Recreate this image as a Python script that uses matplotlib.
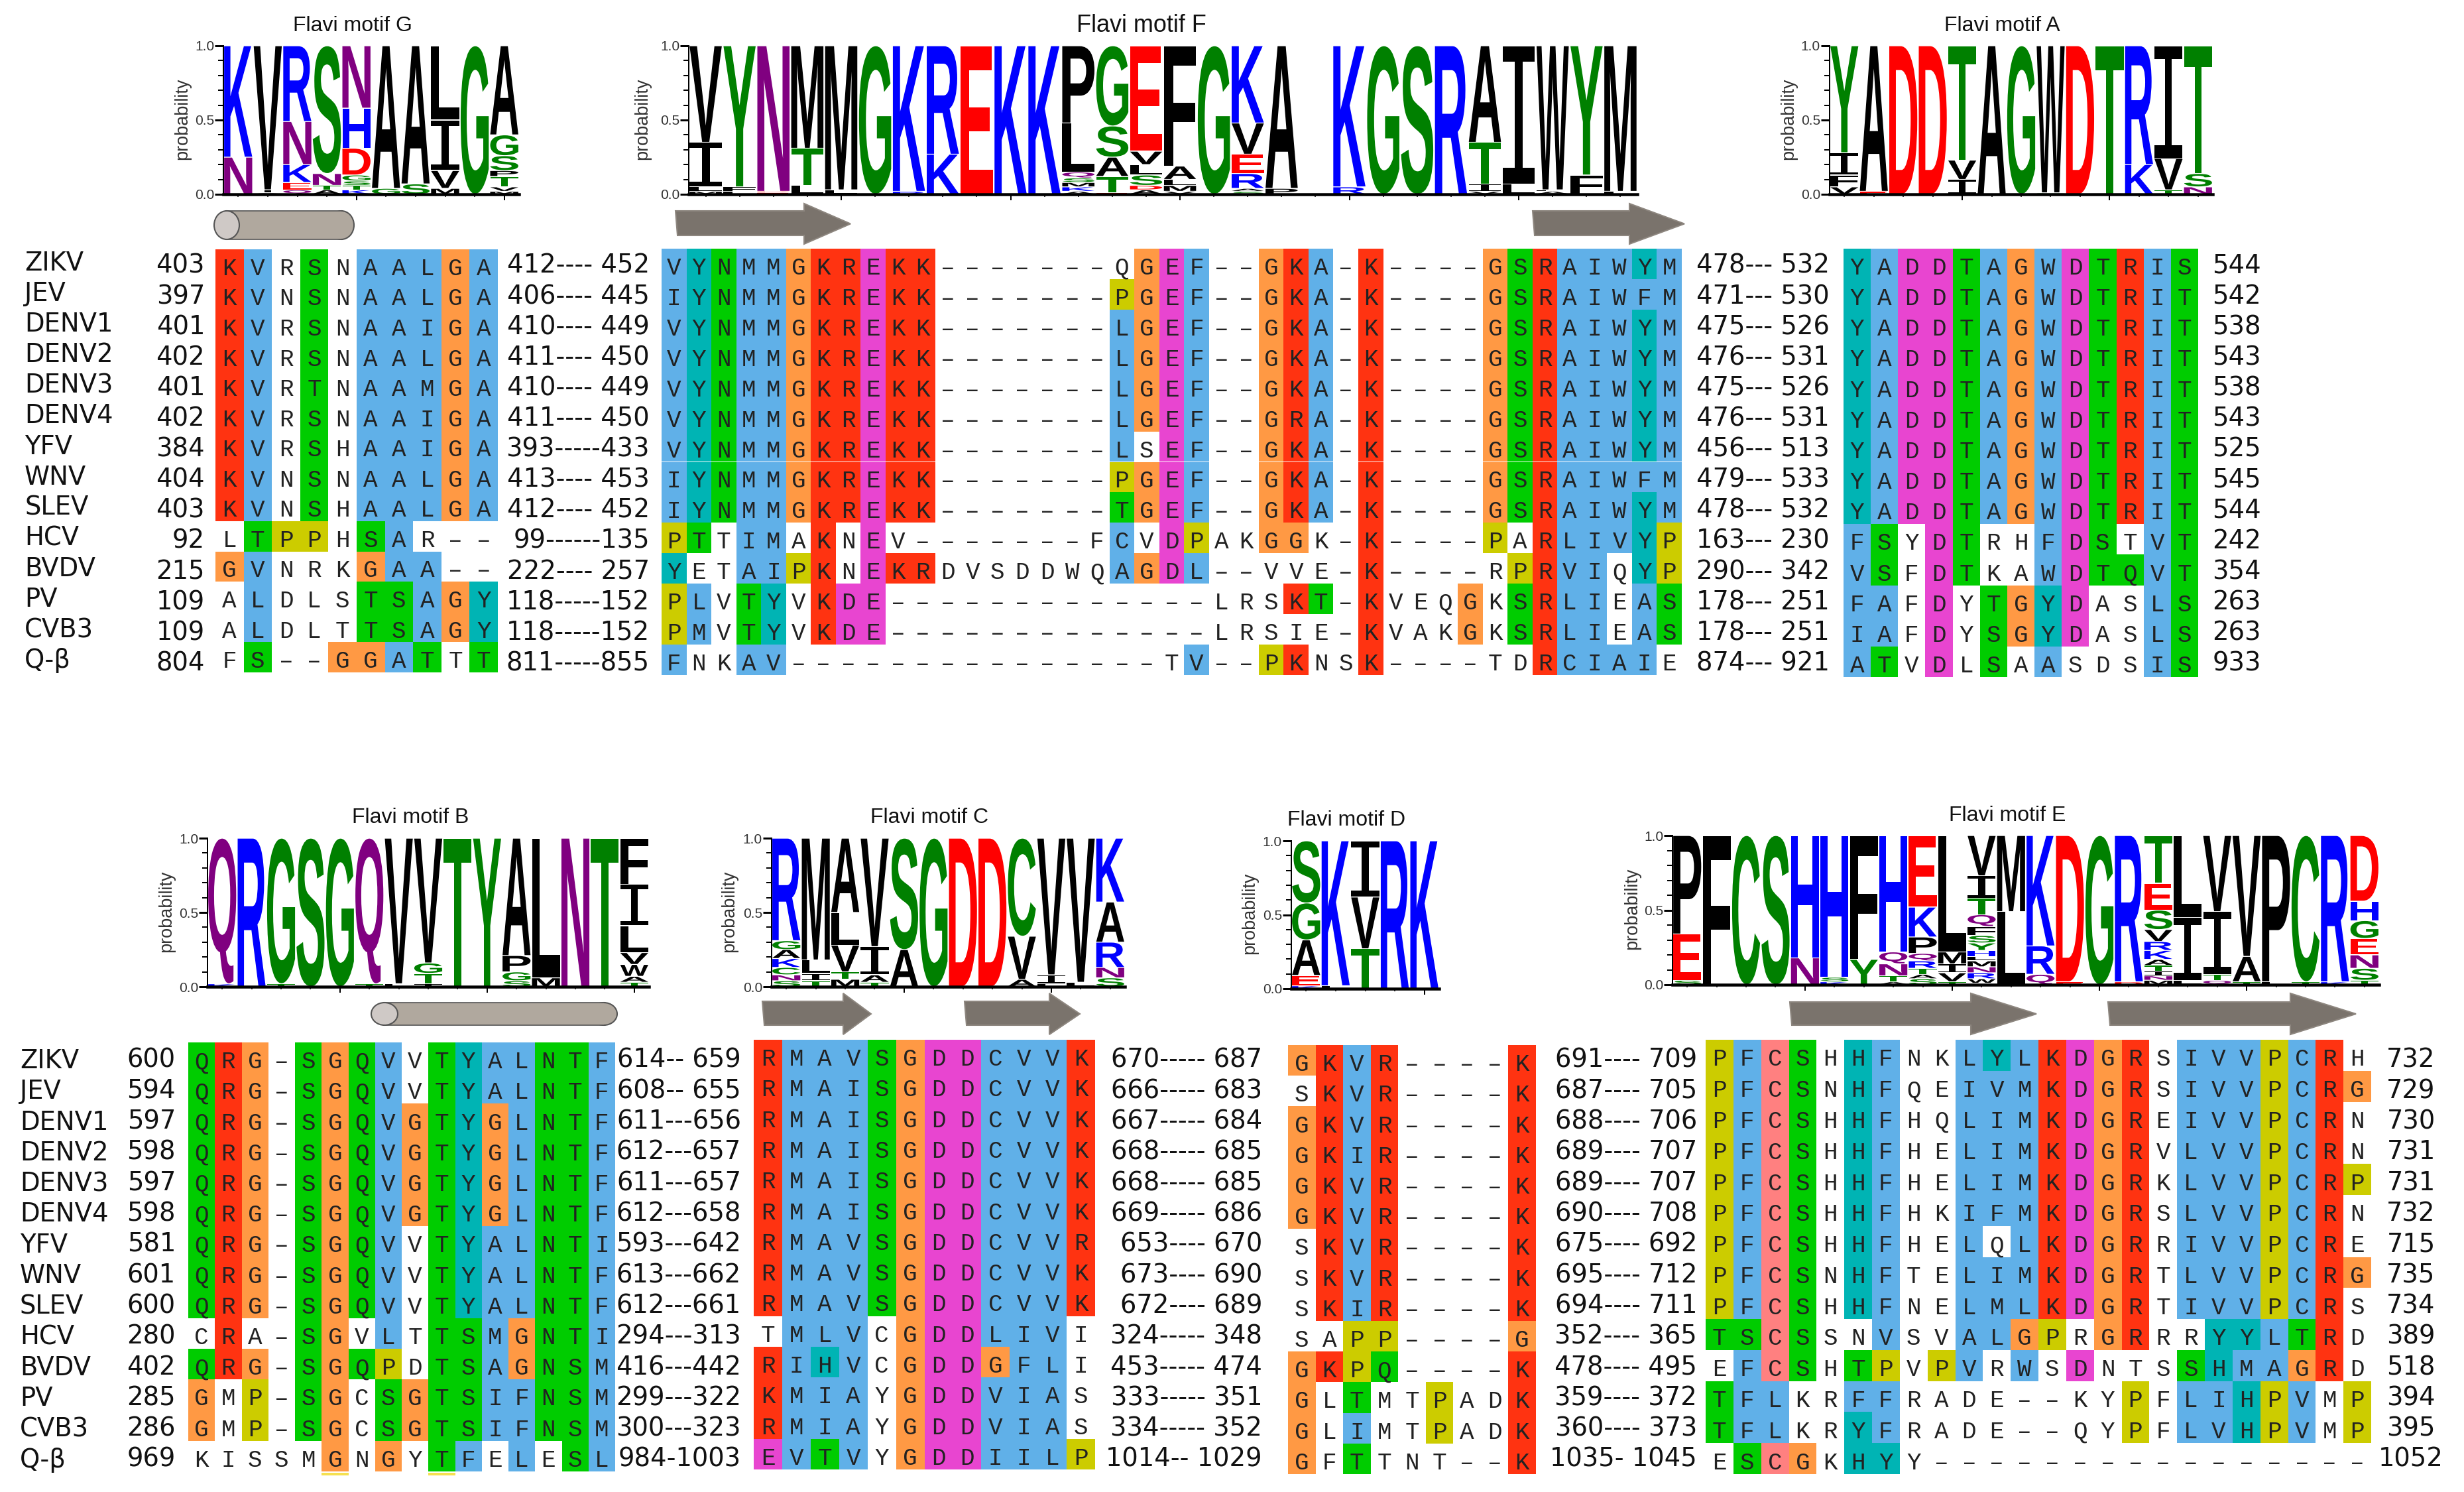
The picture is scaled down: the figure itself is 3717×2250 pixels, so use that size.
import matplotlib
matplotlib.use("Agg")
import matplotlib.pyplot as plt
from matplotlib.font_manager import FontProperties
from matplotlib.patches import Ellipse, PathPatch, Polygon, Rectangle
from matplotlib.ticker import FixedLocator
from matplotlib.textpath import TextPath
from matplotlib.transforms import Affine2D

W, H = 3717, 2250
DPI = 100

names = ["ZIKV", "JEV", "DENV1", "DENV2", "DENV3", "DENV4", "YFV", "WNV", "SLEV",
         "HCV", "BVDV", "PV", "CVB3", "Q-β"]

# --- alignment, upper case = coloured cell, lower case = white cell
seq_g = ["KVrSnAALGA", "KVnSnAALGA", "KVrSnAAIGA", "KVrSnAALGA", "KVrTnAAMGA", "KVrSnAAIGA",
         "KVrShAAIGA", "KVnSnAALGA", "KVnShAALGA", "lTPPhSAr--", "GVnrkGAA--", "aLdlsTSAGY",
         "aLdltTSAGY", "fS--GGATtT"]
seq_f = ["VYNMMGKREKK-------qGEF--GKA-K----GSRAIWYM",
         "IYNMMGKREKK-------PGEF--GKA-K----GSRAIWFM",
         "VYNMMGKREKK-------LGEF--GKA-K----GSRAIWYM",
         "VYNMMGKREKK-------LGEF--GKA-K----GSRAIWYM",
         "VYNMMGKREKK-------LGEF--GKA-K----GSRAIWYM",
         "VYNMMGKREKK-------LGEF--GRA-K----GSRAIWYM",
         "VYNMMGKREKK-------LsEF--GKA-K----GSRAIWYM",
         "IYNMMGKREKK-------PGEF--GKA-K----GSRAIWFM",
         "IYNMMGKREKK-------TGEF--GKA-K----GSRAIWYM",
         "PTtIMaKnEv-------fCvDPakGGk-K----PaRLIVYP",
         "YetAIPKnEKRdvsddwqAGDL--vve-K----rPRVIqYP",
         "PLvTYvKDE-------------lrsKT-KveqGkSRLIeAS",
         "PMvTYvKDE-------------lrsie-KvakGkSRLIeAS",
         "FnkAV---------------tV--PKnsK----tdRCIAIe"]
seq_a = ["YADDTAGWDTRIS", "YADDTAGWDTRIT", "YADDTAGWDTRIT", "YADDTAGWDTRIT", "YADDTAGWDTRIT",
         "YADDTAGWDTRIT", "YADDTAGWDTRIT", "YADDTAGWDTRIT", "YADDTAGWDTRIT", "FSyDTrhFDStVT",
         "VSfDTkaWDTQVT", "FAfDyTGYDasLS", "IAfDySGYDasLS", "ATvDlSaAsdsIS"]
seq_b = ["QRG-SGQVvTYALNTF", "QRG-SGQVvTYALNTF", "QRG-SGQVGTYGLNTF", "QRG-SGQVGTYGLNTF",
         "QRG-SGQVGTYGLNTF", "QRG-SGQVGTYGLNTF", "QRG-SGQVvTYALNTI", "QRG-SGQVvTYALNTF",
         "QRG-SGQVvTYALNTF", "cRa-SGvLtTSMGNTI", "QRG-SGQPdTSAGNSM", "GmP-SGcSGTSIFNSM",
         "GmP-SGcSGTSIFNSM", "kissmGnGyTFeLeSL"]
seq_c = ["RMAVSGDDCVVK", "RMAISGDDCVVK", "RMAISGDDCVVK", "RMAISGDDCVVK", "RMAISGDDCVVK",
         "RMAISGDDCVVK", "RMAVSGDDCVVR", "RMAVSGDDCVVK", "RMAVSGDDCVVK", "tMLVcGDDLIVi",
         "RIHVcGDDGFLi", "KMIAyGDDVIAs", "RMIAyGDDVIAs", "EVTVyGDDIILP"]
seq_d = ["GKVR----K", "sKVR----K", "GKVR----K", "GKIR----K", "GKVR----K", "GKVR----K",
         "sKVR----K", "sKVR----K", "sKIR----K", "saPP----G", "GKPQ----K", "GlTmtPadK",
         "GlImtPadK", "GfTtnt--K"]
seq_e = ["PFCShHFnkLYLKDGRsIVVPCRh", "PFCSnHFqeIVMKDGRsIVVPCRG", "PFCShHFhqLIMKDGReIVVPCRn",
         "PFCShHFheLIMKDGRvLVVPCRn", "PFCShHFheLIMKDGRkLVVPCRP", "PFCShHFhkIFMKDGRsLVVPCRn",
         "PFCShHFheLqLKDGRrIVVPCRe", "PFCSnHFteLIMKDGRtLVVPCRG", "PFCShHFneLMLKDGRtIVVPCRs",
         "TSCSsnVsvALGPrGRrrYYLTRd", "eFCShTPvPVrWsDntsSHMAGRd", "TFLkrFFrade--kyPfLIHPVmP",
         "TFLkrYFrade--qyPfLVHPVmP", "eSCGkHYy----------------"]

# --- residue numbering
start_top = ["403", "397", "401", "402", "401", "402", "384", "404", "403", "92", "215", "109", "109", "804"]
range_g = ["412---- 452", "406---- 445", "410---- 449", "411---- 450", "410---- 449", "411---- 450",
           "393-----433", "413---- 453", "412---- 452", "99------135", "222---- 257", "118-----152",
           "118-----152", "811-----855"]
range_f = ["478--- 532", "471--- 530", "475--- 526", "476--- 531", "475--- 526", "476--- 531",
           "456--- 513", "479--- 533", "478--- 532", "163--- 230", "290--- 342", "178--- 251",
           "178--- 251", "874--- 921"]
end_top = ["544", "542", "538", "543", "538", "543", "525", "545", "544", "242", "354", "263", "263", "933"]
start_bot = ["600", "594", "597", "598", "597", "598", "581", "601", "600", "280", "402", "285", "286", "969"]
range_b = ["614-- 659", "608-- 655", "611---656", "612---657", "611---657", "612---658", "593---642",
           "613---662", "612---661", "294---313", "416---442", "299---322", "300---323", "984-1003"]
range_c = ["670----- 687", "666----- 683", "667----- 684", "668----- 685", "668----- 685", "669----- 686",
           "653---- 670", "673---- 690", "672---- 689", "324----- 348", "453----- 474", "333----- 351",
           "334----- 352", "1014-- 1029"]
range_d = ["691---- 709", "687---- 705", "688---- 706", "689---- 707", "689---- 707", "690---- 708",
           "675---- 692", "695---- 712", "694---- 711", "352---- 365", "478---- 495", "359---- 372",
           "360---- 373", "1035- 1045"]
end_bot = ["732", "729", "730", "731", "731", "732", "715", "735", "734", "389", "518", "394", "395", "1052"]

# --- sequence logos, each column bottom to top as (letter, probability)
logo_g = [
    [("N", .25), ("K", .75)],
    [("A", .01), ("I", .02), ("V", .97)],
    [("Q", .03), ("E", .05), ("K", .12), ("N", .29), ("R", .51)],
    [("A", .03), ("T", .03), ("N", .08), ("S", .86)],
    [("K", .03), ("T", .03), ("S", .03), ("G", .04), ("D", .18), ("H", .27), ("N", .42)],
    [("G", .04), ("A", .96)],
    [("S", .07), ("A", .93)],
    [("M", .04), ("V", .12), ("I", .34), ("L", .50)],
    [("G", 1.0)],
    [("M", .02), ("V", .03), ("T", .07), ("P", .04), ("S", .10), ("G", .14), ("A", .60)],
]
logo_f = [
    [("M", .02), ("L", .03), ("I", .30), ("V", .65)],
    [("L", .02), ("F", .03), ("Y", .95)],
    [("E", .01), ("D", .01), ("N", .98)],
    [("L", .06), ("T", .25), ("M", .69)],
    [("L", .03), ("M", .97)],
    [("G", 1.0)],
    [("R", .02), ("K", .98)],
    [("K", .27), ("R", .73)],
    [("E", 1.0)],
    [("K", 1.0)],
    [("K", 1.0)],
    [("A", .02), ("K", .03), ("M", .03), ("S", .03), ("Q", .04), ("L", .33), ("P", .52)],
    [("E", .01), ("T", .11), ("A", .13), ("S", .21), ("G", .54)],
    [("A", .03), ("D", .03), ("S", .07), ("L", .07), ("V", .09), ("E", .71)],
    [("V", .02), ("M", .04), ("L", .04), ("A", .09), ("F", .81)],
    [("G", 1.0)],
    [("S", .02), ("A", .02), ("R", .10), ("E", .13), ("V", .21), ("K", .52)],
    [("P", .04), ("A", .96)],
    [],
    [("R", .05), ("K", .95)],
    [("G", 1.0)],
    [("S", 1.0)],
    [("R", 1.0)],
    [("V", .02), ("I", .05), ("T", .28), ("A", .65)],
    [("L", .07), ("I", .93)],
    [("A", .02), ("L", .01), ("W", .97)],
    [("F", .13), ("Y", .87)],
    [("L", .02), ("M", .98)],
]
logo_a = [
    [("V", .05), ("F", .08), ("I", .15), ("Y", .72)],
    [("E", .02), ("A", .98)],
    [("D", 1.0)],
    [("D", 1.0)],
    [("I", .10), ("V", .13), ("T", .77)],
    [("A", 1.0)],
    [("G", 1.0)],
    [("G", .01), ("W", .99)],
    [("D", 1.0)],
    [("T", 1.0)],
    [("K", .20), ("R", .80)],
    [("T", .03), ("V", .21), ("I", .76)],
    [("N", .05), ("S", .09), ("T", .86)],
]
logo_b = [
    [("K", .02), ("Q", .98)],
    [("R", 1.0)],
    [("T", .02), ("G", .98)],
    [("S", 1.0)],
    [("G", 1.0)],
    [("T", .02), ("Q", .98)],
    [("L", .02), ("V", .98)],
    [("I", .02), ("T", .07), ("G", .07), ("V", .84)],
    [("T", 1.0)],
    [("Y", 1.0)],
    [("S", .04), ("G", .06), ("P", .11), ("A", .79)],
    [("M", .06), ("L", .94)],
    [("N", 1.0)],
    [("T", 1.0)],
    [("T", .03), ("A", .04), ("W", .08), ("V", .08), ("L", .18), ("I", .28), ("F", .31)],
]
logo_c = [
    [("S", .04), ("N", .04), ("C", .05), ("K", .06), ("A", .06), ("G", .06), ("R", .69)],
    [("T", .04), ("I", .05), ("L", .09), ("M", .82)],
    [("M", .05), ("T", .05), ("V", .18), ("L", .22), ("A", .50)],
    [("T", .03), ("A", .05), ("I", .19), ("V", .73)],
    [("A", .25), ("S", .75)],
    [("G", 1.0)],
    [("D", 1.0)],
    [("D", 1.0)],
    [("A", .05), ("V", .29), ("C", .66)],
    [("L", .02), ("I", .06), ("V", .92)],
    [("L", .03), ("V", .97)],
    [("S", .06), ("N", .07), ("R", .17), ("A", .27), ("K", .43)],
]
logo_d = [
    [("K", .02), ("E", .07), ("A", .24), ("G", .25), ("S", .42)],
    [("L", .02), ("K", .98)],
    [("T", .27), ("V", .35), ("I", .38)],
    [("R", 1.0)],
    [("K", 1.0)],
]
logo_e = [
    [("S", .03), ("E", .31), ("P", .66)],
    [("F", 1.0)],
    [("C", 1.0)],
    [("S", 1.0)],
    [("N", .18), ("H", .82)],
    [("K", .02), ("S", .03), ("H", .95)],
    [("Y", .17), ("F", .83)],
    [("A", .02), ("T", .04), ("N", .08), ("Q", .08), ("H", .78)],
    [("S", .04), ("A", .03), ("T", .04), ("R", .05), ("Q", .05), ("P", .11), ("K", .20), ("E", .48)],
    [("T", .02), ("V", .06), ("I", .06), ("M", .08), ("L", .78)],
    [("W", .03), ("R", .04), ("N", .04), ("M", .04), ("L", .03), ("H", .04), ("Y", .05), ("S", .05),
     ("F", .06), ("Q", .08), ("T", .11), ("I", .15), ("V", .27)],
    [("L", .49), ("M", .51)],
    [("Q", .07), ("R", .19), ("K", .74)],
    [("E", .02), ("D", .98)],
    [("G", 1.0)],
    [("D", .02), ("R", .98)],
    [("M", .03), ("N", .03), ("I", .03), ("T", .04), ("A", .04), ("K", .06), ("R", .06),
     ("V", .08), ("S", .13), ("E", .18), ("T", .32)],
    [("L", .03), ("I", .42), ("L", .55)],
    [("Q", .03), ("T", .04), ("I", .42), ("V", .51)],
    [("T", .02), ("A", .17), ("V", .81)],
    [("L", .02), ("P", .98)],
    [("T", .02), ("C", .98)],
    [("K", .02), ("R", .98)],
    [("T", .03), ("S", .08), ("N", .09), ("E", .11), ("G", .12), ("H", .13), ("D", .44)],
]

# --- colours
clustal = {"K": "#ff3311", "R": "#ff3311",
           "A": "#60b0e8", "I": "#60b0e8", "L": "#60b0e8", "M": "#60b0e8", "F": "#60b0e8",
           "W": "#60b0e8", "V": "#60b0e8", "C": "#60b0e8",
           "N": "#00cc00", "Q": "#00cc00", "S": "#00cc00", "T": "#00cc00",
           "D": "#e845d0", "E": "#e845d0",
           "G": "#ff9944", "P": "#cccc00", "H": "#00b4b4", "Y": "#00b4b4"}
CYS_PINK = "#ff8080"
logo_colors = {"A": "black", "V": "black", "L": "black", "I": "black", "P": "black", "F": "black",
               "W": "black", "M": "black", "G": "#008000", "S": "#008000", "T": "#008000",
               "Y": "#008000", "C": "#008000", "N": "#800080", "Q": "#800080", "K": "#0000ff",
               "R": "#0000ff", "H": "#0000ff", "D": "#ff0000", "E": "#ff0000"}


def pt(px):
    return px * 72 / DPI


fig = plt.figure(figsize=(W / DPI, H / DPI), dpi=DPI)
ax = fig.add_axes([0, 0, 1, 1])
ax.set_xlim(0, W)
ax.set_ylim(H, 0)
ax.axis("off")

SANS = "Liberation Sans"
NUM_SIZE = pt(38.5)
RES_SIZE = pt(36)


def draw_block(seqs, x0, x1, y0, y1, pink_col=None, underline=()):
    cw = (x1 - x0) / len(seqs[0])
    rh = (y1 - y0) / len(seqs)
    for r, seq in enumerate(seqs):
        for c, res in enumerate(seq):
            if res in clustal:
                color = CYS_PINK if (res == "C" and c == pink_col) else clustal[res]
                ax.add_patch(Rectangle((x0 + c * cw, y0 + r * rh), cw, rh, fc=color, lw=0,
                                       antialiased=False, zorder=1))
            ax.text(x0 + (c + .5) * cw, y0 + (r + .5) * rh + 16, res.upper() if res != "-" else "–",
                    family="Liberation Mono", fontsize=RES_SIZE, color="#222222",
                    ha="center", va="baseline", zorder=2)
    for c in underline:
        ax.add_patch(Rectangle((x0 + c * cw, y1 + 2), cw, 4, fc="#f5e050", lw=0, zorder=1))


def draw_column(strings, x, y0, step, ha):
    for r, s in enumerate(strings):
        ax.text(x, y0 + r * step, s, fontsize=NUM_SIZE, color="#111111", ha=ha, va="baseline", zorder=3)


def glyph(letter):
    # the logo's I keeps its bars and a thin stem
    if letter == "I":
        fp = FontProperties(family="DejaVu Sans Mono")
    else:
        fp = FontProperties(family=SANS, weight="bold")
    return TextPath((0, 0), letter, size=10, prop=fp)


def draw_logo(columns, x0, x1, ytop, ybot, title, title_x, title_y, ylabel_x, title_px=32):
    lax = fig.add_axes([x0 / W, 1 - ybot / H, (x1 - x0) / W, (ybot - ytop) / H])
    lax.set_xlim(0, len(columns))
    lax.set_ylim(0, 1)
    lax.patch.set_alpha(0)
    for i, col in enumerate(columns):
        y = 1 - sum(p for _, p in col)
        for letter, p in col:
            path = glyph(letter)
            box = path.get_extents()
            tr = (Affine2D().translate(-box.x0, -box.y0)
                  .scale(.95 / box.width, max(p - .006, .002) / box.height)
                  .translate(i + .025, y + .003))
            lax.add_patch(PathPatch(path, fc=logo_colors[letter], lw=0,
                                    transform=tr + lax.transData, clip_on=False))
            y += p
    for side in ("top", "right"):
        lax.spines[side].set_visible(False)
    lax.spines["left"].set_linewidth(pt(2))
    lax.spines["bottom"].set_linewidth(pt(4.5))
    lax.set_yticks([0, .5, 1])
    lax.set_yticklabels(["0.0", "0.5", "1.0"], family=SANS, fontsize=pt(21), color="#333333")
    lax.yaxis.set_minor_locator(FixedLocator([.1, .2, .3, .4, .6, .7, .8, .9]))
    lax.tick_params(axis="y", which="major", length=pt(13), width=pt(3), pad=pt(1))
    lax.tick_params(axis="y", which="minor", length=pt(8), width=pt(2))
    lax.set_xticks([i + .5 for i in range(4, len(columns), 5)])
    lax.set_xticklabels([])
    lax.xaxis.set_minor_locator(FixedLocator([i + .5 for i in range(len(columns))]))
    lax.tick_params(axis="x", which="major", length=pt(9), width=pt(2))
    lax.tick_params(axis="x", which="minor", length=pt(4), width=pt(1.5))
    ax.text(title_x, title_y, title, family=SANS, fontsize=pt(title_px), color="#111111",
            ha="center", va="center")
    ax.text(ylabel_x, (ytop + ybot) / 2 - 2, "probability", family=SANS, fontsize=pt(27),
            color="#333333", rotation=90, ha="center", va="center")


def draw_helix(x0, x1, y0, y1, cap):
    mid = (y0 + y1) / 2
    ax.add_patch(Ellipse((x1 - cap / 2, mid), cap, y1 - y0, fc="#b0a89e", ec="#555555", lw=1.5))
    ax.add_patch(Rectangle((x0 + cap / 2, y0), x1 - x0 - cap, y1 - y0, fc="#b0a89e", lw=0))
    ax.plot([x0 + cap / 2, x1 - cap / 2], [y0, y0], color="#555555", lw=1.2)
    ax.plot([x0 + cap / 2, x1 - cap / 2], [y1, y1], color="#555555", lw=1.2)
    ax.add_patch(Ellipse((x0 + cap / 2, mid), cap, y1 - y0, fc="#cfc9c6", ec="#555555", lw=1.5))


def draw_arrow(x0, xh, x1, ys0, ys1, yh0, yh1):
    pts = [(x0, ys0), (xh, ys0), (xh, yh0), (x1, (yh0 + yh1) / 2), (xh, yh1), (xh, ys1), (x0 + 3, ys1)]
    ax.add_patch(Polygon(pts, closed=True, fc="#7a736c", ec="#8d867f", lw=1.5))


# top panel
draw_logo(logo_g, 337, 783, 69, 293, "Flavi motif G", 532, 39, 275)
draw_logo(logo_f, 1039, 2470, 69, 293, "Flavi motif F", 1722, 39, 969, title_px=36)
draw_logo(logo_a, 2760, 3338, 69, 293, "Flavi motif A", 3020, 39, 2698)
draw_helix(323, 534, 318, 361, 38)
draw_arrow(1019, 1213, 1283, 318, 355, 307, 368)
draw_arrow(2312, 2458, 2541, 318, 355, 307, 368)

draw_column(names, 37, 408, 46.1, "left")
draw_column(start_top, 309, 412, 46.1, "right")
draw_block(seq_g, 325, 751, 376, 1014)
draw_column(range_g, 980, 412, 46.1, "right")
draw_block(seq_f, 998, 2537, 375, 1018)
draw_column(range_f, 2760, 412, 46.1, "right")
draw_block(seq_a, 2781, 3316, 375, 1021)
draw_column(end_top, 3374, 412, 46.1, "center")

# bottom panel
draw_logo(logo_b, 313, 979, 1264, 1488, "Flavi motif B", 619, 1233, 251)
draw_logo(logo_c, 1164, 1697, 1264, 1488, "Flavi motif C", 1402, 1233, 1100)
draw_logo(logo_d, 1948, 2171, 1268, 1491, "Flavi motif D", 2031, 1237, 1885)
draw_logo(logo_e, 2523, 3589, 1260, 1485, "Flavi motif E", 3028, 1230, 2462)
draw_helix(560, 931, 1512, 1546, 40)
draw_arrow(1150, 1272, 1314, 1510, 1546, 1498, 1560)
draw_arrow(1455, 1583, 1629, 1510, 1546, 1498, 1560)
draw_arrow(2700, 2973, 3072, 1511, 1546, 1498, 1560)
draw_arrow(3180, 3455, 3554, 1511, 1546, 1498, 1560)

draw_column(names, 30, 1611, 46.3, "left")
draw_column(start_bot, 265, 1610, 46.3, "right")
draw_block(seq_b, 284, 928, 1572, 2219, underline=(5, 9))
draw_column(range_b, 1118, 1610, 46.3, "right")
draw_block(seq_c, 1137, 1652, 1568, 2216)
draw_column(range_c, 1904, 1610, 46.3, "right")
draw_block(seq_d, 1943, 2317, 1576, 2223)
draw_column(range_d, 2560, 1610, 46.3, "right")
draw_block(seq_e, 2573, 3577, 1568, 2223, pink_col=2)
draw_column(end_bot, 3637, 1610, 46.3, "center")

fig.savefig("out.png", dpi=DPI)
